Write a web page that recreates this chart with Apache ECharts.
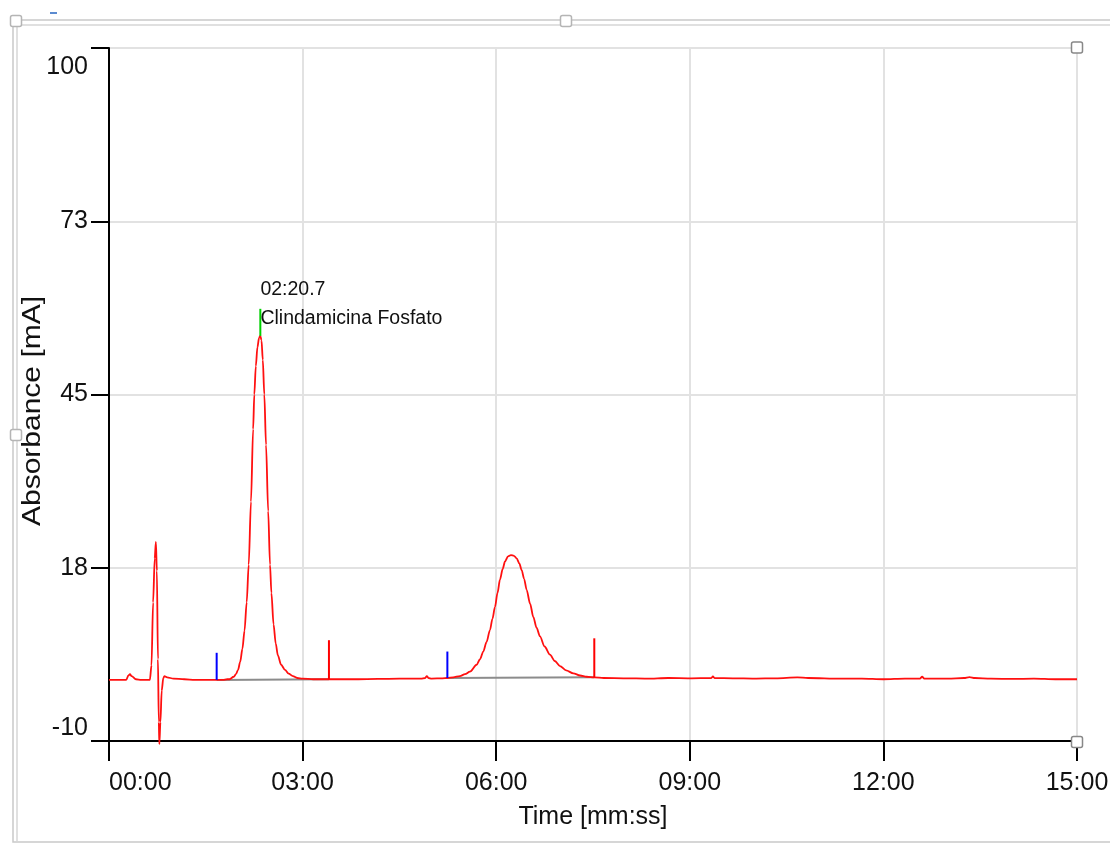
<!DOCTYPE html>
<html>
<head>
<meta charset="utf-8">
<script src="https://cdn.jsdelivr.net/npm/echarts@6/dist/echarts.min.js"></script>
<style>html,body{margin:0;padding:0;background:#fff}#c{width:1110px;height:848px}</style>
</head>
<body>
<div id="c"></div>
<script>
// ---- data (time in seconds, absorbance in mA) ----
const signalTime = [
  0, 10, 16, 18, 19.5, 21, 25, 30, 38, 39.5, 41, 42.5, 43.6, 44.5, 45.5, 46.3, 46.8, 47.8, 49, 50.5, 51.5, 54, 60, 70, 80, 90, 100, 106,
  110, 112, 116, 118, 120, 122, 124, 126, 128, 129.9, 132, 134, 135.1, 136.5, 138, 139.5, 140.7,
  141.8, 143, 144.4, 146, 148, 149.7, 151, 153, 155, 157, 160, 163.6, 167, 171, 175, 180, 190, 204.5, 210,
  230, 250, 270, 290, 294, 295.5, 297, 300, 310, 314.6, 320, 326.3, 331, 335.6, 341.8, 345, 348, 351, 354.2, 356.5, 358.9, 361.2, 363.5, 366, 368.2, 371, 373.7,
  376.5, 379, 381.5, 383.7, 386, 388.3, 391.5, 394.5, 397.5, 400.7, 405, 410, 414.5, 419.3, 425, 431.7, 438, 444.1, 451.2, 460, 480, 500, 520, 540, 560, 561.5, 563, 580, 600,
  620, 640, 650, 680, 700, 720, 740, 754, 756, 758, 780, 795, 800, 805, 820, 840, 860, 880, 900
];
const signalValue = [
  -0.3, -0.3, -0.3, 0.4, 0.6, 0.3, -0.2, -0.3, -0.3, 2, 12, 19, 21.6, 17, 3, -7, -10.5, -7, -2, 0.0, 0.3, 0.1, -0.1, -0.2, -0.3, -0.3, -0.3, -0.3,
  -0.2, -0.2, 0.2, 0.6, 1.3, 2.6, 4.6, 7.5, 12.0, 18.0, 28.0, 39.5, 45.0, 49.5, 52.5, 54.0, 54.3,
  53.6, 50.5, 45.0, 37.0, 26.5, 18.0, 13.5, 8.5, 5.5, 3.6, 2.1, 1.3, 0.7, 0.3, 0.0, -0.1, -0.2, -0.2, -0.2,
  -0.2, -0.15, -0.1, -0.1, 0.0, 0.3, 0.0, -0.1, -0.05, 0.0, 0.1, 0.3, 0.6, 1.0, 2.1, 3.0, 4.2, 5.7, 7.6, 9.4, 11.3, 13.5, 15.6, 17.3, 18.5, 19.3, 19.5,
  19.4, 19.0, 18.2, 17.1, 15.7, 14.0, 11.8, 9.7, 8.0, 6.6, 5.0, 3.7, 2.7, 1.9, 1.2, 0.75, 0.4, 0.2, 0.1, 0.0, -0.05, -0.1, 0.0, -0.05, 0.0, 0.25, 0.0, -0.05, -0.1,
  -0.05, 0.1, 0.0, -0.1, -0.1, -0.2, -0.1, -0.1, 0.2, -0.1, -0.1, 0.0, 0.15, 0.0, -0.1, -0.15, -0.1, -0.2, -0.2
];
// peak start markers (blue) and peak end markers (red): [time, bottom, top]
const peakStartMarks = [[100.1, -0.3, 4.0], [314.6, 0.0, 4.2]];
const peakEndMarks = [[204.5, -0.2, 6.0], [451.2, 0.1, 6.3]];
// integration baselines: [t0, v0, t1, v1]
const integrationBaselines = [[100.1, -0.3, 204.5, -0.2], [314.6, 0.0, 451.2, 0.1]];
// apex marker of identified peak: [time, bottom, top]
const apexMark = [140.7, 54.3, 58.6];
const apexLabel = ['02:20.7', 'Clindamicina Fosfato'];
// axis tick labels
const xTickLabels = ['00:00', '03:00', '06:00', '09:00', '12:00', '15:00'];
const yTickLabels = ['-10', '18', '45', '73', '100'];
const xAxisTitle = 'Time [mm:ss]';
const yAxisTitle = 'Absorbance [mA]';

// ---- chart ----
const FONT = "'Liberation Sans',Arial,sans-serif";
const chart = echarts.init(document.getElementById('c'), null, {renderer: 'canvas'});

const series = [];
integrationBaselines.forEach(b => series.push({
  type: 'line', data: [[b[0], b[1]], [b[2], b[3]]], symbol: 'none', silent: true,
  lineStyle: {color: '#8c8c8c', width: 2}, z: 2, animation: false
}));
series.push({
  type: 'line', data: signalTime.map((t, i) => [t, signalValue[i]]), symbol: 'none', clip: false,
  smooth: 0.3, smoothMonotone: 'x',
  lineStyle: {color: '#ff1010', width: 1.8}, z: 3, animation: false
});
peakStartMarks.forEach(m => series.push({
  type: 'line', data: [[m[0], m[1]], [m[0], m[2]]], symbol: 'none',
  lineStyle: {color: '#0000ff', width: 2}, z: 4, animation: false
}));
peakEndMarks.forEach(m => series.push({
  type: 'line', data: [[m[0], m[1]], [m[0], m[2]]], symbol: 'none',
  lineStyle: {color: '#ff0000', width: 2}, z: 4, animation: false
}));
series.push({
  type: 'line', data: [[apexMark[0], apexMark[1]], [apexMark[0], apexMark[2]]], symbol: 'none',
  lineStyle: {color: '#00d000', width: 2}, z: 4, animation: false,
  markPoint: {
    symbol: 'rect', symbolSize: 0.1, itemStyle: {color: 'rgba(0,0,0,0)'}, animation: false,
    data: [{coord: [apexMark[0], apexMark[2]]}],
    label: {
      show: true, position: 'right', distance: 0, offset: [0, -5],
      formatter: apexLabel.join('\n'), align: 'left',
      fontFamily: FONT, fontSize: 19.5, lineHeight: 29, color: '#111'
    }
  }
});

const handle = (cx, cy, s, stroke) => ({
  type: 'rect', shape: {x: cx - s / 2, y: cy - s / 2, width: s, height: s, r: 2},
  style: {fill: '#fff', stroke: stroke, lineWidth: 1.5}, z: 100
});

chart.setOption({
  animation: false,
  backgroundColor: '#ffffff',
  grid: {left: 109, right: 33, top: 48, bottom: 107, outerBoundsMode: 'none', containLabel: false},
  xAxis: {
    type: 'value', min: 0, max: 900, interval: 180,
    axisLine: {show: true, onZero: false, lineStyle: {color: '#000', width: 2}},
    axisTick: {show: true, length: 20, lineStyle: {color: '#000', width: 2}},
    axisLabel: {
      margin: 30, fontSize: 25, fontFamily: FONT, color: '#111', alignMinLabel: 'left',
      formatter: v => xTickLabels[Math.round(v / 180)]
    },
    splitLine: {show: true, lineStyle: {color: '#e2e2e2', width: 2}},
    name: xAxisTitle, nameLocation: 'middle', nameGap: 64,
    nameTextStyle: {fontSize: 25, fontFamily: FONT, color: '#111'}
  },
  yAxis: {
    type: 'value', min: -10, max: 100, interval: 27.5,
    axisLine: {show: true, onZero: false, lineStyle: {color: '#000', width: 2}},
    axisTick: {show: true, length: 18, lineStyle: {color: '#000', width: 2}},
    axisLabel: {
      margin: 21, fontSize: 25, fontFamily: FONT, color: '#111',
      verticalAlignMinLabel: 'bottom', verticalAlignMaxLabel: 'top',
      formatter: v => {
        const i = Math.round((v + 10) / 27.5);
        if (i === yTickLabels.length - 1) return '{top|' + yTickLabels[i] + '}';
        if (i === 0) return '{bot|' + yTickLabels[i] + '}';
        return yTickLabels[i];
      },
      rich: {
        top: {fontSize: 25, fontFamily: FONT, color: '#111', padding: [7, 0, 0, 0]},
        bot: {fontSize: 25, fontFamily: FONT, color: '#111', padding: [0, 0, 0, 0]}
      }
    },
    splitLine: {show: true, lineStyle: {color: '#e2e2e2', width: 2}}
  },
  series: series,
  graphic: [
    {type: 'rect', shape: {x: 13, y: 20, width: 1120, height: 822}, style: {fill: 'none', stroke: '#c9c9c9', lineWidth: 1.5}, z: 90, silent: true},
    {type: 'polyline', shape: {points: [[17, 842], [17, 25], [1112, 25]]}, style: {fill: 'none', stroke: '#d6d6d6', lineWidth: 1.5}, z: 90, silent: true},
    {type: 'line', shape: {x1: 50, y1: 13, x2: 57, y2: 13}, style: {stroke: '#5b8bd0', lineWidth: 2}, z: 90},
    handle(16, 21, 11, '#b5b5b5'),
    handle(566, 21, 11, '#b5b5b5'),
    handle(16, 435, 11, '#b5b5b5'),
    handle(1077, 47.5, 11, '#888'),
    handle(1077, 742, 11, '#888'),
    {
      type: 'text', x: 33, y: 411, rotation: Math.PI / 2, scaleY: 0.85,
      style: {text: yAxisTitle, fontSize: 30, fontFamily: FONT, fill: '#111', align: 'center', verticalAlign: 'middle'},
      z: 50
    }
  ]
});
</script>
</body>
</html>
